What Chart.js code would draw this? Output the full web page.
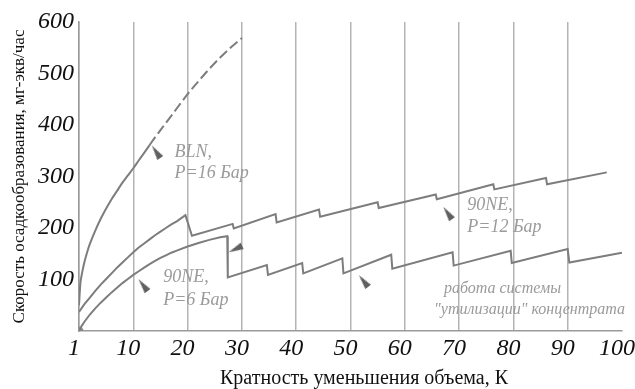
<!DOCTYPE html>
<html>
<head>
<meta charset="utf-8">
<script src="https://cdn.jsdelivr.net/npm/chart.js@4.4.0/dist/chart.umd.min.js"></script>
<style>
  html, body { margin: 0; padding: 0; background: #fff; }
</style>
</head>
<body>
<canvas id="chart" width="635" height="389"></canvas>
<script>
// x axis: first tick is labelled "1" (K = 1)
const xTickLabels = ["1", "10", "20", "30", "40", "50", "60", "70", "80", "90", "100"];
const yTicks = [0, 100, 200, 300, 400, 500, 600];

// BLN, P=16 bar (solid up to K~13, dashed beyond)
const blnX = [0, 0.25, 0.5, 1, 1.5, 2, 3, 4, 5, 6, 7, 8, 9, 10, 11, 12, 13, 14, 15, 16, 18, 20, 22, 24, 26, 28, 30];
const blnY = [50, 92, 109, 134, 153, 169, 195, 218, 238, 256, 272, 288, 302, 316, 331, 346, 361, 376, 390, 404, 432, 460, 485, 509, 531, 551, 569];
const blnSolidEnd = 13;

// 90NE, P=12 bar
const ne12X = [0, 1, 2, 3, 4, 5, 6, 7, 8, 9, 10, 11, 12, 13, 14, 15, 16, 17, 18, 19.6, 20.8, 28.3, 28.5, 36.2, 36.4, 44.2, 44.4, 55, 55.2, 65.7, 65.9, 76.3, 76.5, 86, 86.2, 97.2];
const ne12Y = [37, 52, 65, 78, 90, 101, 112, 123, 133, 143, 153, 162, 170, 178, 186, 193, 200, 207, 213, 225, 185, 208, 199, 227, 211, 236, 222, 250, 239, 265, 256, 285, 275, 297, 285, 308];

// 90NE, P=6 bar
const ne6X = [0, 0.5, 1, 2, 3, 4, 5, 6, 7, 8, 9, 10, 11, 12, 13, 14, 15, 16, 17, 18, 20, 22, 24, 26, 27.3, 27.4, 34.6, 34.8, 41.1, 41.3, 48.5, 48.7, 57.5, 57.7, 68.8, 69.0, 79.5, 79.7, 90.0, 90.3, 100];
const ne6Y = [0, 10, 18, 32, 44, 55, 65, 75, 84, 93, 101, 109, 116, 123, 130, 136, 142, 147, 152, 156, 164, 171, 177, 182, 184, 104, 128, 109, 132, 112, 141, 112, 148, 121, 153, 127, 156, 132, 159, 133, 152];

// pointer wedges
const markX = [14.2, 11.8, 67.9, 28.8, 52.4];
const markY = [348, 89, 229, 159, 97];
const markRot = [-34, -37, -35, -115, -38];

// labels on the plot
const notes = [
  { text: "BLN,", x: 17.6, y: 348, size: 18 },
  { text: "P=16 Бар", x: 17.6, y: 307, size: 18 },
  { text: "90NE,", x: 15.5, y: 105, size: 18 },
  { text: "P=6 Бар", x: 15.5, y: 60, size: 18 },
  { text: "90NE,", x: 71.5, y: 244, size: 18 },
  { text: "P=12 Бар", x: 71.5, y: 201, size: 18 },
  { text: "работа системы", x: 67.2, y: 82, size: 16 },
  { text: "\"утилизации\" концентрата", x: 65.4, y: 42, size: 16 }
];

const xTitle = "Кратность уменьшения объема, К";
const yTitle = "Скорость осадкообразования, мг-экв/час";

const pts = (xs, ys) => xs.map((x, i) => ({ x: x, y: ys[i] }));

const lineColor = "#7d7d7d";
const gridColor = "#b4b4b4";
const serif = "'Liberation Serif', serif";

function wedge() {
  const c = document.createElement("canvas");
  c.width = 7; c.height = 15;
  const g = c.getContext("2d");
  g.fillStyle = "#606060";
  g.beginPath();
  g.moveTo(3.5, 0);
  g.lineTo(7, 15);
  g.lineTo(0, 15);
  g.closePath();
  g.fill();
  return c;
}

const notesPlugin = {
  id: "notes",
  afterDatasetsDraw(chart) {
    const ctx = chart.ctx, xs = chart.scales.x, ys = chart.scales.y;
    ctx.save();
    ctx.fillStyle = "#9a9a9a";
    ctx.textAlign = "left";
    ctx.textBaseline = "middle";
    notes.forEach(n => {
      ctx.font = "italic " + n.size + "px " + serif;
      ctx.fillText(n.text, xs.getPixelForValue(n.x), ys.getPixelForValue(n.y));
    });
    // x axis title sits a little right of the plot centre in the original
    ctx.fillStyle = "#111";
    ctx.font = "20px " + serif;
    ctx.textAlign = "center";
    ctx.fillText(xTitle, 364, 379);
    ctx.restore();
  }
};

new Chart(document.getElementById("chart"), {
  type: "scatter",
  data: {
    datasets: [
      {
        data: pts(blnX, blnY),
        showLine: true,
        borderColor: lineColor,
        borderWidth: 2,
        pointRadius: 0,
        cubicInterpolationMode: "monotone",
        segment: {
          borderDash: ctx => ctx.p0.parsed.x >= blnSolidEnd ? [10, 4] : undefined
        }
      },
      {
        data: pts(ne12X, ne12Y),
        showLine: true,
        borderColor: lineColor,
        borderWidth: 2,
        pointRadius: 0
      },
      {
        data: pts(ne6X, ne6Y),
        showLine: true,
        borderColor: lineColor,
        borderWidth: 2,
        pointRadius: 0
      },
      {
        data: [{ x: ne6X[0], y: ne6Y[0] }],
        pointRadius: 4.5,
        pointBackgroundColor: "#8a8a8a",
        pointBorderWidth: 0
      },
      {
        data: pts(markX, markY),
        pointStyle: wedge(),
        pointRotation: markRot
      }
    ]
  },
  options: {
    responsive: false,
    animation: false,
    layout: { padding: { left: 0, top: 22, right: 13, bottom: 0 } },
    plugins: {
      legend: { display: false },
      tooltip: { enabled: false }
    },
    scales: {
      x: {
        type: "linear",
        min: 0,
        max: 100,
        ticks: {
          stepSize: 10,
          padding: 3,
          labelOffset: -5,
          color: "#111",
          font: { family: serif, size: 24, style: "italic" },
          callback: (v) => xTickLabels[Math.round(v / 10)]
        },
        grid: {
          drawTicks: false,
          lineWidth: 1.5,
          color: ctx => (ctx.tick && ctx.tick.value === 100) ? "rgba(0,0,0,0)" : gridColor
        },
        border: { color: "#9a9a9a", width: 1.5 },
        title: { display: false, text: xTitle },
        afterFit: s => { s.height = 58; s.paddingLeft = 0; s.paddingRight = 0; }
      },
      y: {
        min: 0,
        max: 600,
        afterBuildTicks: s => { s.ticks = yTicks.map(v => ({ value: v })); },
        ticks: {
          padding: 5,
          color: "#111",
          font: { family: serif, size: 24, style: "italic" },
          callback: v => v === 0 ? "" : v
        },
        grid: { display: false, drawTicks: false },
        border: { color: "#9a9a9a", width: 1.5 },
        title: {
          display: true,
          text: yTitle,
          color: "#111",
          font: { family: serif, size: 17 },
          padding: { top: 9, bottom: 0 }
        },
        afterFit: s => { s.width = 79; s.paddingTop = 0; s.paddingBottom = 0; }
      }
    }
  },
  plugins: [notesPlugin]
});
</script>
</body>
</html>
